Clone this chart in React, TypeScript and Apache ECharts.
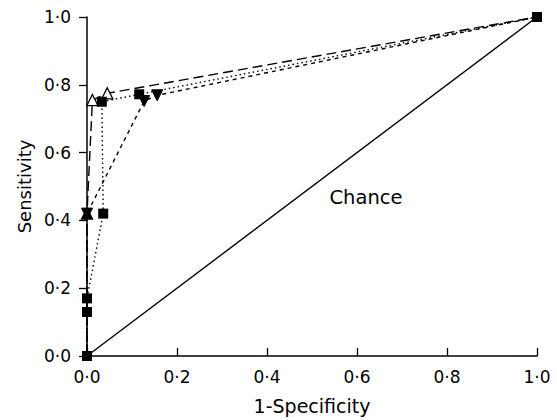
import React, { useEffect, useRef } from "react";
import * as echarts from "echarts";

const axisTicks = [0, 0.2, 0.4, 0.6, 0.8, 1.0];
const chanceX = [0, 1];
const chanceY = [0, 1];
const openTriX = [0, 0, 0.012, 0.045, 1];
const openTriY = [0, 0.42, 0.755, 0.775, 1];
const downTriX = [0, 0, 0.127, 0.156, 1];
const downTriY = [0, 0.42, 0.752, 0.769, 1];
const squareX = [0, 0, 0, 0.036, 0.033, 0.116, 1];
const squareY = [0, 0.13, 0.17, 0.42, 0.75, 0.772, 1];
const chanceLabel = "Chance";
const chanceLabelPos = [0.62, 0.468];

const fmt = (v: number) => v.toFixed(1).replace(".", "\u00B7");
const FONT = "DejaVu Sans";

export default function App() {
  const ref = useRef<HTMLDivElement>(null);
  useEffect(() => {
    if (!ref.current) return;
    const chart = echarts.init(ref.current, null, { renderer: "svg" });
    const zip = (xs: number[], ys: number[]) => xs.map((x, i) => [x, ys[i]]);
    const hideEnds = (pts: number[][]) =>
      pts.map((p, i) =>
        i === 0 || i === pts.length - 1 ? { value: p, symbol: "none" } : { value: p }
      );
    const triPts = hideEnds(zip(openTriX, openTriY)).map((d: any, i: number) =>
      i === 1 ? { ...d, itemStyle: { color: "#000" } } : d
    );
    const option: any = {
      animation: false,
      backgroundColor: "#fff",
      grid: { left: 87, right: 20, top: 17, bottom: 59 },
      xAxis: {
        type: "value",
        min: 0,
        max: 1,
        interval: 0.2,
        name: "1-Specificity",
        nameLocation: "middle",
        nameGap: 40,
        nameTextStyle: { fontFamily: FONT, fontSize: 19, color: "#000" },
        axisLine: { show: true, onZero: false, lineStyle: { color: "#000", width: 1.5 } },
        axisTick: { show: true, inside: true, length: 8, lineStyle: { color: "#000", width: 1.3 } },
        axisLabel: { formatter: fmt, fontFamily: FONT, fontSize: 17, color: "#000", margin: 12 },
        splitLine: { show: false },
      },
      yAxis: {
        type: "value",
        min: 0,
        max: 1,
        interval: 0.2,
        name: "Sensitivity",
        nameLocation: "middle",
        nameGap: 53,
        nameTextStyle: { fontFamily: FONT, fontSize: 18, color: "#000" },
        axisLine: { show: true, onZero: false, lineStyle: { color: "#000", width: 1.5 } },
        axisTick: { show: true, inside: false, length: 8, lineStyle: { color: "#000", width: 1.3 } },
        axisLabel: { formatter: fmt, fontFamily: FONT, fontSize: 17, color: "#000", margin: 16 },
        splitLine: { show: false },
      },
      series: [
        {
          type: "line",
          name: "Chance",
          data: zip(chanceX, chanceY),
          symbol: "none",
          lineStyle: { color: "#000", width: 1.4, type: "solid" },
          z: 1,
        },
        {
          type: "line",
          name: "A",
          data: triPts,
          symbol: "triangle",
          symbolSize: 11,
          itemStyle: { color: "#fff", borderColor: "#000", borderWidth: 1.3 },
          lineStyle: { color: "#000", width: 1.4, type: [10, 5] },
          z: 2,
        },
        {
          type: "line",
          name: "B",
          data: hideEnds(zip(downTriX, downTriY)),
          symbol: "triangle",
          symbolRotate: 180,
          symbolSize: 11,
          itemStyle: { color: "#000", borderColor: "#000", borderWidth: 1 },
          lineStyle: { color: "#000", width: 1.4, type: [4, 4] },
          z: 3,
        },
        {
          type: "line",
          name: "C",
          data: zip(squareX, squareY),
          symbol: "rect",
          symbolSize: 10,
          itemStyle: { color: "#000", borderColor: "#000", borderWidth: 0 },
          lineStyle: { color: "#000", width: 1.4, type: [1.5, 3] },
          z: 4,
        },
      ],
    };
    chart.setOption(option);
    const p = chart.convertToPixel({ gridIndex: 0 }, chanceLabelPos) as number[];
    chart.setOption({
      graphic: [
        {
          type: "text",
          x: p[0],
          y: p[1],
          style: {
            text: chanceLabel,
            fontFamily: FONT,
            fontSize: 19.5,
            fill: "#000",
            align: "center",
            verticalAlign: "middle",
          },
        },
      ],
    });
    return () => chart.dispose();
  }, []);
  return (
    <div
      ref={ref}
      style={{ position: "fixed", left: 0, top: 0, width: 557, height: 420, background: "#fff" }}
    />
  );
}
